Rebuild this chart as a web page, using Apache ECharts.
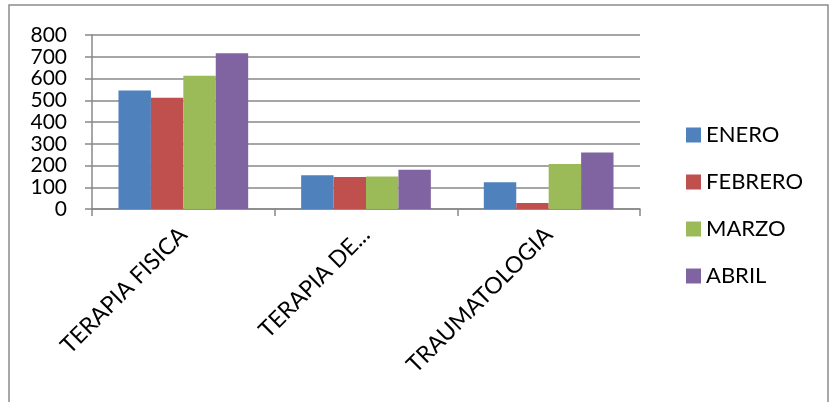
<!DOCTYPE html>
<html>
<head>
<meta charset="utf-8">
<script src="https://cdn.jsdelivr.net/npm/echarts@6/dist/echarts.min.js"></script>
<style>
html,body{margin:0;padding:0;background:#fff;}
#chart{width:829px;height:402px;}
</style>
</head>
<body>
<div id="chart"></div>
<script>
var categories = ["TERAPIA FISICA", "TERAPIA DE...", "TRAUMATOLOGIA"];
var seriesNames = ["ENERO", "FEBRERO", "MARZO", "ABRIL"];
var enero = [545, 155, 123];
var febrero = [511, 147, 28];
var marzo = [613, 149, 207];
var abril = [716, 180, 260];
var colors = ["#4F81BD", "#C0504D", "#9BBB59", "#8064A2"];
var FONT = "Lato";

var chart = echarts.init(document.getElementById('chart'));
var values = [enero, febrero, marzo, abril];
var series = seriesNames.map(function (n, i) {
  return {
    name: n,
    type: 'bar',
    data: values[i],
    barGap: '0%',
    barCategoryGap: '29%',
    itemStyle: { color: colors[i] }
  };
});
chart.setOption({
  animation: false,
  color: colors,
  textStyle: { fontFamily: FONT },
  graphic: [{
    type: 'rect',
    shape: { x: 9, y: 5, width: 819, height: 420 },
    style: { fill: 'none', stroke: '#8c8c8c', lineWidth: 1.5 },
    silent: true
  }],
  grid: { left: 92, right: 189, top: 35, bottom: 193 },
  legend: {
    orient: 'vertical',
    left: 681,
    top: 119,
    itemWidth: 15,
    itemHeight: 15,
    itemGap: 25,
    icon: 'rect',
    textStyle: { fontFamily: FONT, fontSize: 22, color: '#000', lineHeight: 22 },
    data: seriesNames
  },
  xAxis: {
    type: 'category',
    data: categories,
    axisLine: { lineStyle: { color: '#888', width: 1.5 } },
    axisTick: { show: true, length: 7, lineStyle: { color: '#888', width: 1.5 } },
    axisLabel: {
      rotate: 45,
      interval: 0,
      margin: 22,
      fontFamily: FONT,
      fontSize: 23,
      color: '#000'
    }
  },
  yAxis: {
    type: 'value',
    min: 0,
    max: 800,
    interval: 100,
    axisLine: { show: true, lineStyle: { color: '#888', width: 1.5 } },
    axisTick: { show: true, length: 7, lineStyle: { color: '#888', width: 1.5 } },
    splitLine: { lineStyle: { color: '#888', width: 1.5 } },
    axisLabel: { margin: 25, fontFamily: FONT, fontSize: 21, color: '#000' }
  },
  series: series
});
</script>
</body>
</html>
